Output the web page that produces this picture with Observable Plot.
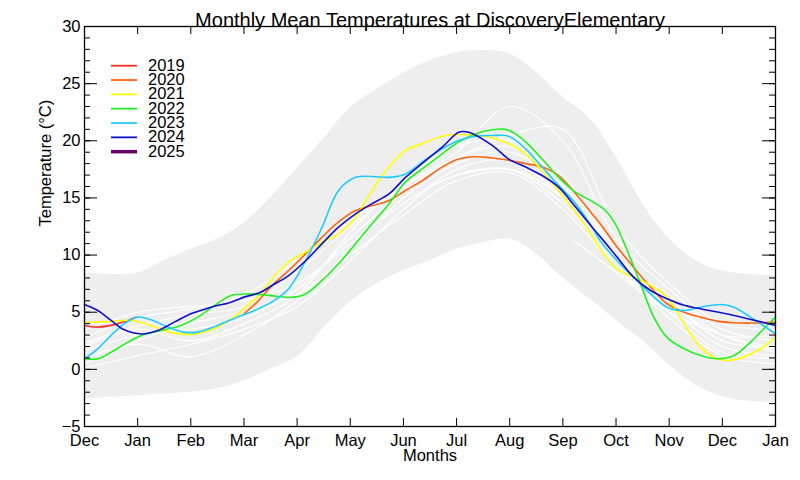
<!DOCTYPE html>
<html><head><meta charset="utf-8">
<script src="https://cdn.jsdelivr.net/npm/d3@7"></script>
<script src="https://cdn.jsdelivr.net/npm/@observablehq/plot@0.6"></script>
<style>
body{margin:0;background:#fff;}
#wrap{position:relative;width:800px;height:480px;font-family:"Liberation Sans",Arial,Helvetica,sans-serif;}
</style></head><body><div id="wrap"></div>
<script>
// ---- Data (x = month index: 0 = Dec, 1 = Jan, ... 12 = Dec, 13 = Jan) ----
const titleText = "Monthly Mean Temperatures at DiscoveryElementary";
const xLabelText = "Months";
const yLabelText = "Temperature (°C)";
const monthLabels = ["Dec","Jan","Feb","Mar","Apr","May","Jun","Jul","Aug","Sep","Oct","Nov","Dec","Jan"];
const monthPos = [0,1,2,3,4,5,6,7,8,9,10,11,12,13];
const yMajorTicks = [-5,0,5,10,15,20,25,30];
const yMinorTicks = [-5,-4,-3,-2,-1,0,1,2,3,4,5,6,7,8,9,10,11,12,13,14,15,16,17,18,19,20,21,22,23,24,25,26,27,28,29,30];

// envelope (min / max) band
const bandT     = [0,0.5,1,1.5,2,2.5,3,3.5,4,4.5,5,5.5,6,6.5,7,7.5,8,8.5,9,9.5,10,10.5,11,11.5,12,12.5,13];
const bandUpper = [8.4,8.3,8.4,9.5,10.5,11.4,12.8,15.0,17.6,20.2,22.9,24.5,25.9,27.0,27.7,27.9,27.6,26.0,23.8,22.0,18.6,14.5,11.4,9.5,8.6,8.3,8.2];
const bandLower = [-2.6,-2.45,-2.3,-2.15,-2.0,-1.7,-1.0,0.0,1.1,3.6,5.9,7.5,8.6,9.5,10.5,11.1,11.4,10.1,8.0,6.2,4.3,2.5,0.4,-1.4,-2.4,-2.8,-2.9];

// historical years (white lines), monthly values at t = 0..13
const hist1 = [0.1,1.2,2.2,3.5,5.5,9.5,14.0,17.5,18.2,15.0,9.0,4.5,1.2,0.5];
const hist2 = [1.0,2.2,1.1,3.0,6.0,10.5,15.0,18.0,19.0,16.0,10.0,5.5,2.0,1.2];
const hist3 = [1.65,3.0,3.5,4.5,7.0,11.5,15.5,18.5,19.5,16.5,10.5,6.0,2.5,1.8];
const hist4 = [2.3,3.8,4.8,5.5,8.5,12.5,16.0,19.0,23.0,20.0,11.5,7.0,3.5,2.5];
const hist5 = [2.8,4.5,5.3,6.5,9.5,13.0,16.0,18.5,20.5,21.0,12.5,7.5,4.0,3.5];
const hist6 = [3.4,5.0,5.5,6.0,7.5,11.0,14.5,17.0,17.5,14.5,9.5,6.5,3.0,2.0];
const hist7 = [0.5,2.5,4.0,5.0,6.5,10.0,13.5,16.5,17.2,14.0,9.0,5.0,1.5,1.0];
const hist8 = [2.0,3.5,2.5,4.0,6.5,12.0,16.5,19.5,20.0,17.0,10.0,6.0,3.0,3.0];
const hist9  = [[7,17.0],[8,17.5],[9,15.0],[10,9.0],[11,6.0],[12,2.5],[13,2.0]];
const hist10 = [[9.2,11.3],[10,8.5],[11,5.0],[12,3.0],[13,1.5]];

// coloured years: [t, value]
const y2019 = [[0,3.84],[0.25,3.7],[0.63,4.0],[0.97,4.55]];
const y2020 = [[3.0,4.86],[3.25,5.9],[3.5,7.2],[3.84,8.65],[4.16,10.1],[4.47,11.57],[4.78,12.9],[5.1,13.9],[5.41,14.34],[5.73,14.78],[6.04,15.65],[6.35,16.5],[6.73,17.7],[7.04,18.4],[7.36,18.6],[7.67,18.5],[7.98,18.3],[8.3,18.0],[8.61,17.7],[8.92,16.96],[9.24,15.36],[9.55,13.6],[9.71,12.7],[10.02,10.7],[10.33,8.94],[10.65,7.2],[10.96,5.74],[11.28,5.0],[11.59,4.57],[11.9,4.22],[12.22,4.08],[12.53,4.05],[13,4.13]];
const y2021 = [[0,4.1],[0.5,4.2],[0.88,4.28],[1.25,3.84],[1.57,3.3],[2.0,3.05],[2.26,3.26],[2.5,3.7],[2.82,4.57],[3.14,5.9],[3.3,6.5],[3.53,7.9],[3.84,9.38],[4.16,10.25],[4.47,11.13],[4.78,11.86],[5.1,13.3],[5.41,15.65],[5.73,17.7],[6.04,19.15],[6.35,19.74],[6.73,20.4],[7.04,20.55],[7.36,20.5],[7.67,20.26],[7.98,19.74],[8.3,18.86],[8.61,17.4],[8.92,15.65],[9.24,13.75],[9.55,11.7],[9.71,10.5],[10.02,8.8],[10.33,8.07],[10.65,7.34],[10.96,6.32],[11.28,4.0],[11.59,1.94],[11.9,0.93],[12.09,0.78],[12.4,1.07],[12.72,1.8],[13,2.8]];
const y2022 = [[0,0.93],[0.25,0.93],[0.5,1.5],[0.82,2.38],[1.07,2.97],[1.44,3.4],[1.82,3.84],[2.13,4.57],[2.45,5.6],[2.76,6.47],[3.07,6.6],[3.3,6.55],[3.6,6.4],[3.9,6.3],[4.16,6.6],[4.47,7.78],[4.78,9.24],[5.1,11.0],[5.41,12.74],[5.73,14.5],[6.04,16.4],[6.4,17.7],[6.73,18.86],[7.04,19.9],[7.36,20.6],[7.67,20.96],[7.92,21.0],[8.11,20.6],[8.3,19.9],[8.61,18.4],[8.92,16.8],[9.24,15.5],[9.55,14.7],[9.8,13.9],[10.0,12.6],[10.21,10.4],[10.46,7.5],[10.71,4.57],[10.96,2.8],[11.28,1.8],[11.59,1.22],[11.9,0.93],[12.22,1.22],[12.53,2.38],[12.84,3.84],[13,4.57]];
const y2023 = [[0,0.93],[0.25,1.8],[0.5,2.97],[0.75,4.0],[1.0,4.57],[1.25,4.34],[1.57,3.7],[1.88,3.26],[2.13,3.26],[2.5,3.84],[2.88,4.57],[3.22,5.2],[3.53,5.9],[3.84,7.05],[4.16,9.5],[4.47,12.44],[4.78,15.65],[5.1,16.8],[5.41,16.88],[5.73,16.8],[6.04,17.1],[6.4,18.3],[6.73,19.3],[7.04,20.03],[7.36,20.4],[7.67,20.46],[7.98,20.4],[8.3,19.3],[8.61,17.7],[8.92,16.1],[9.24,14.5],[9.55,12.44],[9.71,11.2],[10.02,9.5],[10.33,8.07],[10.65,6.6],[10.96,5.44],[11.28,5.15],[11.59,5.44],[11.97,5.68],[12.22,5.44],[12.53,4.57],[13,3.1]];
const y2024 = [[0,5.68],[0.25,5.15],[0.5,4.28],[0.75,3.46],[1.07,3.1],[1.38,3.4],[1.69,4.13],[2.0,4.86],[2.38,5.44],[2.76,5.88],[3.0,6.32],[3.29,6.7],[3.53,7.34],[3.84,8.2],[4.16,9.5],[4.47,11.0],[4.78,12.44],[5.1,13.6],[5.41,14.5],[5.73,15.36],[6.04,16.8],[6.4,18.2],[6.73,19.44],[7.04,20.75],[7.23,20.75],[7.67,19.6],[7.98,18.4],[8.3,17.7],[8.61,16.96],[8.92,15.94],[9.24,14.2],[9.55,12.44],[9.71,11.57],[10.02,9.82],[10.33,8.07],[10.65,6.9],[10.96,6.17],[11.28,5.6],[11.59,5.3],[12.22,4.72],[13,3.84]];
const y2025 = [];

const yearNames  = ["2019","2020","2021","2022","2023","2024","2025"];
const yearColors = ["#ff2a2a","#ff6410","#ffff00","#22f022","#1ecaff","#1010c8","#660066"];
const yearData   = [y2019,y2020,y2021,y2022,y2023,y2024,y2025];

// ---- Build tables ----
const bandRows = bandT.map((t,i)=>({t, lo: bandLower[i], hi: bandUpper[i]}));
const histRows = [];
[hist1,hist2,hist3,hist4,hist5,hist6,hist7,hist8].forEach((arr,k)=>arr.forEach((v,i)=>histRows.push({id:k, t:monthPos[i], v})));
[hist9,hist10].forEach((arr,k)=>arr.forEach(([t,v])=>histRows.push({id:100+k, t, v})));
const yearRows = [];
yearData.forEach((arr,k)=>arr.forEach(([t,v])=>yearRows.push({year:yearNames[k], color:yearColors[k], t, v})));

const W=800, H=480, mL=84, mR=25, mT=26, mB=54;
const fw = W-mL-mR, fh = H-mT-mB;
const font = '"Liberation Sans", Arial, Helvetica, sans-serif';

const chart = Plot.plot({
  width: W, height: H,
  marginLeft: mL, marginRight: mR, marginTop: mT, marginBottom: mB,
  style: {fontFamily: font, fontSize: "16.5px", color: "black", background: "white"},
  x: {domain: [0,13]},
  y: {domain: [-5,30]},
  marks: [
    Plot.areaY(bandRows, {x:"t", y1:"lo", y2:"hi", fill:"#eeeeee", curve:"catmull-rom"}),
    Plot.line(histRows, {x:"t", y:"v", z:"id", stroke:"white", strokeWidth:1.2, curve:"catmull-rom"}),
    Plot.line(yearRows, {x:"t", y:"v", z:"year", stroke:"color", strokeWidth:1.6, curve:"catmull-rom"}),
    Plot.frame({stroke:"black", strokeWidth:1.3}),
    Plot.tickX(monthPos, {x:d=>d, insetTop: fh-8, stroke:"black"}),
    Plot.tickX(monthPos, {x:d=>d, insetBottom: fh-8, stroke:"black"}),
    Plot.tickY(yMinorTicks, {y:d=>d, insetRight: fw-6, stroke:"black"}),
    Plot.tickY(yMajorTicks, {y:d=>d, insetRight: fw-13, stroke:"black"}),
    Plot.tickY(yMinorTicks, {y:d=>d, insetLeft: fw-6, stroke:"black"}),
    Plot.tickY(yMajorTicks, {y:d=>d, insetLeft: fw-13, stroke:"black"}),
    Plot.axisX(monthPos, {tickSize:0, tickPadding:8, tickFormat:i=>monthLabels[i], label:null, fontSize:16.5}),
    Plot.axisY(yMajorTicks, {tickSize:0, tickPadding:4, label:null, fontSize:16.5}),
    Plot.text([yLabelText], {frameAnchor:"left", dx:-39, rotate:-90, fontSize:16.5}),
    Plot.text([xLabelText], {frameAnchor:"bottom", dy:34, fontSize:16.5}),
    Plot.text([titleText], {frameAnchor:"top", dy:-14, fontSize:20})
  ]
});
document.getElementById("wrap").appendChild(chart);

// ---- Legend (inside plot, top-left) ----
const svg = d3.select(chart);
const lg = svg.append("g").attr("font-family", font).attr("font-size", 16.5).attr("text-anchor","start");
yearNames.forEach((name,i)=>{
  const yy = 65.7 + 14.33*i;
  lg.append("line").attr("x1",111).attr("x2",137).attr("y1",yy).attr("y2",yy)
    .attr("stroke",yearColors[i]).attr("stroke-width", name==="2025" ? 3.5 : 1.8);
  lg.append("text").attr("x",148).attr("y",yy-1).attr("dominant-baseline","central")
    .attr("text-anchor","start").attr("fill","black").text(name);
});
</script>
</body></html>
